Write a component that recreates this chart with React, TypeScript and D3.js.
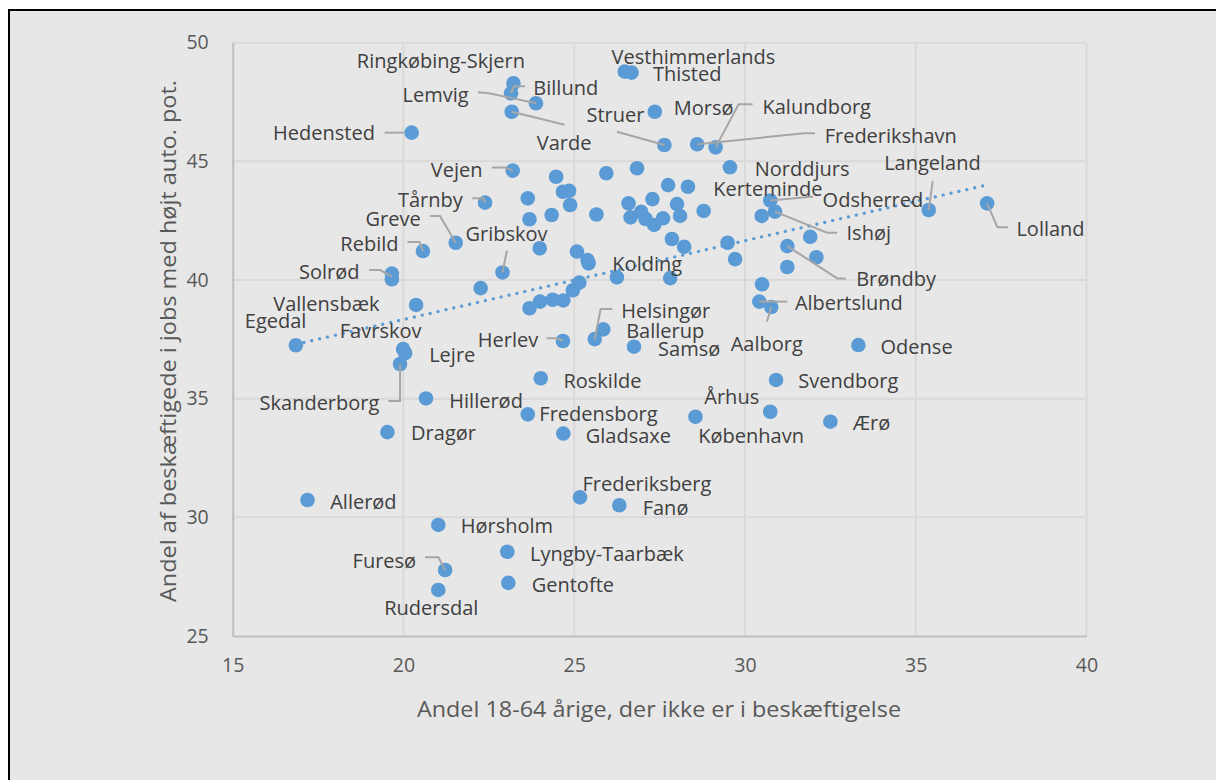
import { useEffect, useRef } from "react";
import * as d3 from "d3";

// kommuner, andel 18-64 årige uden beskæftigelse (x) og andel jobs med højt auto. potentiale (y)
const kommuner = [
  "Ringkøbing-Skjern", "Billund", "Lemvig", "Varde", "Hedensted", "Vesthimmerlands", "Thisted",
  "Morsø", "Struer", "Frederikshavn", "Kalundborg", "Norddjurs", "Vejen", "Tårnby", "Greve",
  "Rebild", "Gribskov", "Solrød", "Kerteminde", "Ishøj", "Odsherred", "Langeland", "Lolland",
  "Brøndby", "Kolding", "Albertslund", "Aalborg", "Helsingør", "Ballerup", "Herlev", "Samsø",
  "Odense", "Vallensbæk", "Egedal", "Favrskov", "Lejre", "Skanderborg", "Roskilde", "Svendborg",
  "Hillerød", "Fredensborg", "Århus", "København", "Ærø", "Dragør", "Gladsaxe", "Frederiksberg",
  "Fanø", "Allerød", "Hørsholm", "Lyngby-Taarbæk", "Furesø", "Gentofte", "Rudersdal",
];

const ikkeBeskaeftiget = [
  23.22, 23.15, 23.88, 23.17, 20.24, 26.48, 26.68, 27.36, 27.64, 28.60, 29.14, 29.56, 23.20, 22.39,
  21.53, 20.57, 22.90, 19.66, 30.74, 30.88, 31.91, 35.38, 37.09, 31.24, 25.42, 30.42, 30.77, 25.60,
  25.85, 24.67, 26.75, 33.32, 20.37, 16.85, 19.99, 20.05, 19.90, 24.02, 30.91, 20.66, 23.64, 30.74,
  28.55, 32.50, 19.53, 24.68, 25.17, 26.32, 17.19, 21.02, 23.04, 21.22, 23.07, 21.02,
  // kommuner uden etiket
  19.66, 24.47, 25.94, 26.84, 24.67, 24.85, 23.64, 24.88, 23.69, 24.34, 25.65, 26.59, 27.29, 27.75,
  28.33, 26.65, 26.96, 27.09, 27.34, 27.60, 28.01, 28.10, 28.79, 27.86, 28.22, 29.49, 29.71, 27.81,
  30.49, 32.09, 31.24, 30.50, 23.99, 25.08, 25.39, 26.25, 22.26, 23.69, 24.00, 24.37, 24.68, 24.96,
  25.15
];

const hoejtAutoPot = [
  48.29, 47.87, 47.45, 47.09, 46.21, 48.78, 48.74, 47.09, 45.69, 45.72, 45.59, 44.75, 44.61, 43.26,
  41.57, 41.22, 40.32, 40.27, 43.35, 42.88, 41.82, 42.95, 43.23, 41.43, 40.70, 39.09, 38.86, 37.51,
  37.92, 37.43, 37.19, 37.26, 38.95, 37.25, 37.09, 36.92, 36.46, 35.86, 35.79, 35.01, 34.34, 34.45,
  34.24, 34.03, 33.59, 33.53, 30.84, 30.51, 30.73, 29.68, 28.55, 27.78, 27.24, 26.94,
  // kommuner uden etiket
  40.03, 44.35, 44.50, 44.71, 43.72, 43.76, 43.44, 43.16, 42.56, 42.74, 42.76, 43.23, 43.41, 44.00,
  43.93, 42.64, 42.87, 42.57, 42.32, 42.60, 43.20, 42.70, 42.91, 41.73, 41.40, 41.57, 40.88, 40.08,
  42.70, 40.96, 40.55, 39.82, 41.34, 41.20, 40.84, 40.11, 39.66, 38.81, 39.09, 39.17, 39.14, 39.57,
  39.89
];

const xTicks = [15, 20, 25, 30, 35, 40];
const yTicks = [25, 30, 35, 40, 45, 50];
const xTitle = "Andel 18-64 årige, der ikke er i beskæftigelse";
const yTitle = "Andel af beskæftigede i jobs med højt auto. pot.";

// label placement in pixels relative to the point (layout only)
type LabelPos = { dx: number; dy: number; anchor?: string; leader?: number[][] };
const labelLayout: Record<string, LabelPos> = {
  "Ringkøbing-Skjern": { dx: -72.5, dy: -23, anchor: "middle" },
  "Billund": { dx: 22.3, dy: -6, leader: [[14, -7], [3, -7], [0, 0]] },
  "Lemvig": { dx: -67.4, dy: -8.3, anchor: "end", leader: [[-58, -11], [-47, -10], [0, 0]] },
  "Varde": { dx: 25, dy: 31, leader: [[53, 13], [0, 0]] },
  "Hedensted": { dx: -36.7, dy: 0, anchor: "end", leader: [[-27, 0], [-8, 0]] },
  "Vesthimmerlands": { dx: 68.7, dy: -15, anchor: "middle" },
  "Thisted": { dx: 21.4, dy: 0.6 },
  "Morsø": { dx: 18.9, dy: -4.4 },
  "Struer": { dx: -19.9, dy: -30, anchor: "end", leader: [[-47.5, -13.3], [0, 0]] },
  "Kalundborg": { dx: 46.9, dy: -41.3, leader: [[37, -43], [23, -43], [0, 0]] },
  "Frederikshavn": { dx: 127.5, dy: -8.3, leader: [[118, -11], [107, -11], [0, 0]] },
  "Norddjurs": { dx: 24.8, dy: 1 },
  "Vejen": { dx: -30.2, dy: -0.7, anchor: "end", leader: [[-21, -3], [-7.5, -3], [0, 0]] },
  "Tårnby": { dx: -22.3, dy: -2.7, anchor: "end", leader: [[-12.7, -4.4], [-1.7, -4.4], [0, 0]] },
  "Greve": { dx: -35, dy: -24.4, anchor: "end", leader: [[-25.7, -26.7], [-15.7, -26.7], [0, 0]] },
  "Rebild": { dx: -24.4, dy: -7.7, anchor: "end", leader: [[-15.4, -9], [-3.4, -9], [0, 0]] },
  "Gribskov": { dx: 4, dy: -38.5, anchor: "middle", leader: [[4.4, -21.8], [0, 0]] },
  "Solrød": { dx: -32.4, dy: -1.8, anchor: "end", leader: [[-22.7, -3.5], [-11.7, -3.5], [0, 3]] },
  "Kerteminde": { dx: -2.4, dy: -12.2, anchor: "middle", leader: [[43, -4], [0, 0]] },
  "Ishøj": { dx: 71.5, dy: 21, leader: [[62, 21], [52, 21], [0, 0]] },
  "Odsherred": { dx: 12.4, dy: -37.4 },
  "Langeland": { dx: 3.7, dy: -47.3, anchor: "middle", leader: [[4, -29], [0, 0]] },
  "Lolland": { dx: 29.3, dy: 25, leader: [[20.7, 24], [10.3, 24], [0, 0]] },
  "Brøndby": { dx: 68.8, dy: 32.3, leader: [[58.5, 32.3], [50, 32.3], [0, 0]] },
  "Kolding": { dx: 23.8, dy: 0 },
  "Albertslund": { dx: 35.6, dy: 1.2, leader: [[28, 0], [0, 0]] },
  "Aalborg": { dx: -4.5, dy: 36.3, anchor: "middle", leader: [[-4.4, 14.7], [0, 0]] },
  "Helsingør": { dx: 26.6, dy: -28.3, leader: [[17.6, -30], [5.9, -30], [0, 0]] },
  "Ballerup": { dx: 22.9, dy: 1.4 },
  "Herlev": { dx: -24.7, dy: -1.7, anchor: "end", leader: [[-16.3, -2.7], [-6.3, -2.7], [0, 0]] },
  "Samsø": { dx: 24.1, dy: 1.6 },
  "Odense": { dx: 22.2, dy: 1 },
  "Vallensbæk": { dx: -36.7, dy: -1.7, anchor: "end" },
  "Egedal": { dx: -20.3, dy: -24.6, anchor: "middle" },
  "Favrskov": { dx: -22.5, dy: -18.3, anchor: "middle" },
  "Lejre": { dx: 24, dy: 1.3 },
  "Skanderborg": { dx: -20.7, dy: 38.7, anchor: "end", leader: [[-11.7, 37], [0, 37], [0, 0]] },
  "Roskilde": { dx: 22.7, dy: 2.4 },
  "Svendborg": { dx: 22.3, dy: 0.7 },
  "Hillerød": { dx: 23.3, dy: 1.7 },
  "Fredensborg": { dx: 11.6, dy: -1 },
  "Århus": { dx: -38.5, dy: -15, anchor: "middle" },
  "København": { dx: 55.7, dy: 18.3, anchor: "middle" },
  "Ærø": { dx: 22.4, dy: 1 },
  "Dragør": { dx: 23.7, dy: 0.7 },
  "Gladsaxe": { dx: 22.5, dy: 1.5 },
  "Frederiksberg": { dx: 2.4, dy: -14 },
  "Fanø": { dx: 23.4, dy: 2 },
  "Allerød": { dx: 22.7, dy: 1 },
  "Hørsholm": { dx: 22.4, dy: 1 },
  "Lyngby-Taarbæk": { dx: 22.7, dy: 1.6 },
  "Furesø": { dx: -29, dy: -9.3, anchor: "end", leader: [[-20, -12.7], [-6.7, -12.7], [0, 0]] },
  "Gentofte": { dx: 23.4, dy: 1.6 },
  "Rudersdal": { dx: -7, dy: 17.3, anchor: "middle" },
};

const W = 1216;
const H = 780;
const left = 232.7, right = 1086.5, top = 42.7, bottom = 636;
const blue = "#5b9bd5";
const font = "'Open Sans', 'Noto Sans', sans-serif";

const App = () => {
  const ref = useRef<SVGSVGElement>(null);

  useEffect(() => {
    const svg = d3.select(ref.current);
    svg.selectAll("*").remove();

    const x = d3.scaleLinear([15, 40], [left, right]);
    const y = d3.scaleLinear([25, 50], [bottom, top]);

    svg.append("rect").attr("width", W).attr("height", H).attr("fill", "#ffffff");
    svg.append("rect")
      .attr("x", 9).attr("y", 10).attr("width", W + 50).attr("height", H + 50)
      .attr("fill", "#e7e7e7").attr("stroke", "#000").attr("stroke-width", 2);

    // grid
    const grid = svg.append("g").attr("stroke", "#d9d9d9").attr("stroke-width", 2);
    yTicks.filter(t => t !== 25).forEach(t => {
      grid.append("line").attr("x1", left).attr("x2", right).attr("y1", y(t)).attr("y2", y(t));
    });
    xTicks.filter(t => t !== 15).forEach(t => {
      grid.append("line").attr("x1", x(t)).attr("x2", x(t)).attr("y1", top).attr("y2", bottom);
    });

    // axes
    const xAxis = d3.axisBottom(x).tickValues(xTicks).tickSize(0).tickPadding(22);
    svg.append("g").attr("transform", `translate(0,${bottom})`).call(xAxis)
      .call(g => g.select(".domain").attr("stroke", "#bfbfbf").attr("stroke-width", 2))
      .call(g => g.selectAll("text").attr("fill", "#595959").attr("font-size", 19.5).attr("font-family", font));

    const yAxis = d3.axisLeft(y).tickValues(yTicks).tickSize(0).tickPadding(24);
    svg.append("g").attr("transform", `translate(${left},0)`).call(yAxis)
      .call(g => g.select(".domain").attr("stroke", "#bfbfbf").attr("stroke-width", 2))
      .call(g => g.selectAll("text").attr("fill", "#595959").attr("font-size", 19.5).attr("font-family", font));

    // titles
    svg.append("text")
      .attr("x", 659).attr("y", 708)
      .attr("text-anchor", "middle").attr("dominant-baseline", "central")
      .attr("fill", "#595959").attr("font-size", 22).attr("font-family", font)
      .attr("textLength", 484).attr("lengthAdjust", "spacingAndGlyphs")
      .text(xTitle);
    svg.append("text")
      .attr("transform", "translate(167,341) rotate(-90)")
      .attr("text-anchor", "middle").attr("dominant-baseline", "central")
      .attr("fill", "#595959").attr("font-size", 22).attr("font-family", font)
      .attr("textLength", 522).attr("lengthAdjust", "spacingAndGlyphs")
      .text(yTitle);

    const idx = d3.range(ikkeBeskaeftiget.length);

    // points
    svg.append("g").attr("fill", blue)
      .selectAll("circle").data(idx).join("circle")
      .attr("cx", i => x(ikkeBeskaeftiget[i]))
      .attr("cy", i => y(hoejtAutoPot[i]))
      .attr("r", 7.3);

    // linear trendline (least squares)
    const mx = d3.mean(ikkeBeskaeftiget) as number;
    const my = d3.mean(hoejtAutoPot) as number;
    const sxy = d3.sum(idx, i => (ikkeBeskaeftiget[i] - mx) * (hoejtAutoPot[i] - my));
    const sxx = d3.sum(idx, i => (ikkeBeskaeftiget[i] - mx) ** 2);
    const slope = sxy / sxx;
    const icpt = my - slope * mx;
    const [x0, x1] = d3.extent(ikkeBeskaeftiget) as [number, number];
    const line = d3.line<number>().x(v => x(v)).y(v => y(icpt + slope * v));
    svg.append("path").datum([x0, x1]).attr("d", line)
      .attr("fill", "none").attr("stroke", blue).attr("stroke-width", 3.2)
      .attr("stroke-linecap", "round").attr("stroke-dasharray", "0.1 8");

    // leaders + labels
    const named = d3.range(kommuner.length);
    const lg = svg.append("g").attr("fill", "none").attr("stroke", "#a6a6a6").attr("stroke-width", 2);
    named.forEach(i => {
      const p = labelLayout[kommuner[i]];
      if (!p || !p.leader) return;
      const cx = x(ikkeBeskaeftiget[i]), cy = y(hoejtAutoPot[i]);
      lg.append("path").attr("d", d3.line()(p.leader.map(([a, b]) => [cx + a, cy + b]) as [number, number][]));
    });

    svg.append("g")
      .attr("fill", "#404040").attr("font-size", 20).attr("font-family", font)
      .selectAll("text").data(named).join("text")
      .attr("x", i => x(ikkeBeskaeftiget[i]) + (labelLayout[kommuner[i]]?.dx ?? 22))
      .attr("y", i => y(hoejtAutoPot[i]) + (labelLayout[kommuner[i]]?.dy ?? 1))
      .attr("text-anchor", i => labelLayout[kommuner[i]]?.anchor ?? "start")
      .attr("dominant-baseline", "central")
      .text(i => kommuner[i]);
  }, []);

  return (
    <svg
      ref={ref}
      width={W}
      height={H}
      style={{ position: "fixed", left: 0, top: 0, display: "block" }}
    />
  );
};

export default App;
